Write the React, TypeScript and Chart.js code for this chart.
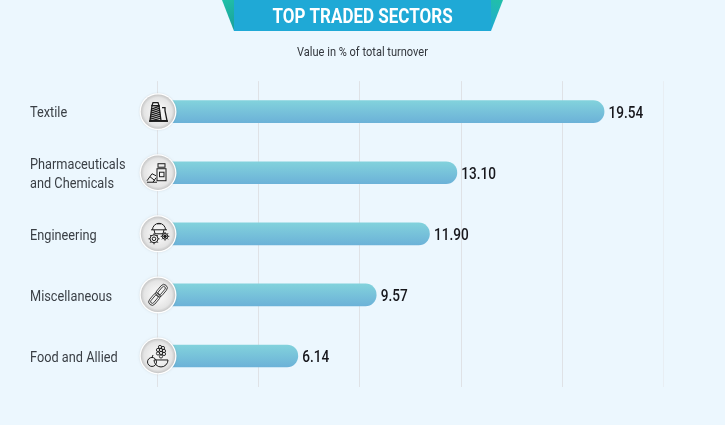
import React, { useEffect, useRef } from "react";
import { Chart, registerables } from "chart.js";

Chart.register(...registerables);

const categories: (string | string[])[] = [
  "Textile",
  ["Pharmaceuticals", "and Chemicals"],
  "Engineering",
  "Miscellaneous",
  "Food and Allied",
];
const values = [19.54, 13.1, 11.9, 9.57, 6.14];
const valueLabels = ["19.54", "13.10", "11.90", "9.57", "6.14"];
const gridTicks = [0, 4.43, 8.86, 13.29, 17.72, 22.15];
const axisMax = 23.52;
const titleText = "TOP TRADED SECTORS";
const subtitleText = "Value in % of total turnover";

const FONT = "Roboto, sans-serif";
const INK = "#17171c";
const CONDENSE = 0.85;

type Ctx = CanvasRenderingContext2D;

// The reference uses a condensed face: every text the chart draws is narrowed horizontally.
const condenseText = (c: any) => {
  if (c.__condensed) return;
  c.__condensed = true;
  const orig = c.fillText.bind(c);
  c.fillText = (t: string, x: number, y: number) => {
    c.save();
    c.translate(x, y);
    c.scale(CONDENSE, 1);
    orig(t, 0, 0);
    c.restore();
  };
};

const line = (c: Ctx, pts: number[][], close = false) => {
  c.beginPath();
  pts.forEach((p, i) => (i ? c.lineTo(p[0], p[1]) : c.moveTo(p[0], p[1])));
  if (close) c.closePath();
  c.stroke();
};
const circle = (c: Ctx, x: number, y: number, r: number, fill = false) => {
  c.beginPath();
  c.arc(x, y, r, 0, Math.PI * 2);
  fill ? c.fill() : c.stroke();
};
const gear = (c: Ctx, x: number, y: number, r: number) => {
  circle(c, x, y, r);
  circle(c, x, y, r * 0.45);
  for (let i = 0; i < 8; i++) {
    const a = (i * Math.PI) / 4;
    line(c, [
      [x + Math.cos(a) * r, y + Math.sin(a) * r],
      [x + Math.cos(a) * (r + 1.5), y + Math.sin(a) * (r + 1.5)],
    ]);
  }
};

const icons: ((c: Ctx) => void)[] = [
  (c) => {
    c.lineWidth = 1.3;
    line(c, [[-5, -9], [0, -9], [1, -6], [-6, -6]], true);
    line(c, [[-6, -6], [1, -6], [3, 9], [-8, 9]], true);
    for (let i = -4; i < 9; i += 2) line(c, [[-7 - i * 0.1, i + 1.5], [2 + i * 0.1, i - 1.5]]);
    line(c, [[4, -4], [7, -4], [7, -1], [9, 9], [3, 9]]);
    c.lineWidth = 1.6;
    line(c, [[-9, 9.5], [10, 9.5]]);
  },
  (c) => {
    c.lineWidth = 1;
    c.strokeRect(-1, -4, 9, 12);
    c.strokeRect(0, -9, 7, 3.5);
    c.strokeRect(1.5, -0.5, 4.5, 4.5);
    line(c, [[-11, 8], [-6, 1], [-2, 3]]);
    line(c, [[-11, 9.5], [-1, 9.5]]);
    line(c, [[-8, 4], [-3, 8]]);
    line(c, [[-5, 9.5], [-2, 5]]);
  },
  (c) => {
    c.lineWidth = 1;
    c.beginPath();
    c.arc(1, -4, 6.5, Math.PI, 0);
    c.stroke();
    line(c, [[-7, -4], [9, -4]]);
    line(c, [[-4, -4], [-3, 0], [5, 0], [6, -4]]);
    line(c, [[-1, -10], [3, -10]]);
    gear(c, -4, 5, 4);
    gear(c, 7, 2.5, 2.8);
    circle(c, 7, 2.5, 1.4, true);
  },
  (c) => {
    c.lineWidth = 0.9;
    c.strokeStyle = "#3a3a3a";
    c.save();
    c.rotate(-Math.PI / 3.6);
    for (const dx of [-5.5, 5.5]) {
      c.beginPath();
      c.roundRect(dx - 7, -3.5, 14, 7, 3.5);
      c.stroke();
      c.beginPath();
      c.roundRect(dx - 5, -1.7, 10, 3.4, 1.7);
      c.stroke();
    }
    c.restore();
  },
  (c) => {
    c.lineWidth = 1;
    circle(c, -6, 6, 4.5);
    c.beginPath();
    c.arc(3, 4, 7, 0, Math.PI);
    c.closePath();
    c.stroke();
    line(c, [[-6, 1.5], [-5, -1]]);
    c.lineWidth = 0.9;
    for (const [x, y] of [[2, -9], [5, -8], [0, -6], [3, -6], [6, -5], [0, -2.5], [3, -3], [6, -2], [3, 0.5]]) circle(c, x, y, 1.6);
  },
];

const overlayPlugin = {
  id: "overlay",
  beforeDraw(chart: any) {
    const c: Ctx = chart.ctx;
    c.save();
    const sideL = c.createLinearGradient(222, 0, 234, 31);
    sideL.addColorStop(0, "#21c0a8");
    sideL.addColorStop(1, "#189f9a");
    c.fillStyle = sideL;
    c.beginPath();
    c.moveTo(222, 0);
    c.lineTo(236, 0);
    c.lineTo(236, 31);
    c.lineTo(234, 31);
    c.closePath();
    c.fill();
    const sideR = c.createLinearGradient(503, 0, 491, 31);
    sideR.addColorStop(0, "#21c0a8");
    sideR.addColorStop(1, "#1fa9d6");
    c.fillStyle = sideR;
    c.beginPath();
    c.moveTo(503, 0);
    c.lineTo(489, 0);
    c.lineTo(489, 31);
    c.lineTo(491, 31);
    c.closePath();
    c.fill();
    c.fillStyle = "#1fa9d6";
    c.fillRect(234, 0, 257, 31);
    c.restore();
  },
  afterDatasetsDraw(chart: any) {
    const c: Ctx = chart.ctx;
    const yS = chart.scales.y;
    const xS = chart.scales.x;
    c.save();
    values.forEach((v, i) => {
      const y = yS.getPixelForValue(i);
      const x = xS.getPixelForValue(v);
      c.fillStyle = INK;
      c.font = `500 16px ${FONT}`;
      c.textAlign = "left";
      c.textBaseline = "middle";
      c.fillText(valueLabels[i], x + 4.5, y + 2.5);

      const cx = xS.getPixelForValue(0) + 0.5;
      c.save();
      c.shadowColor = "rgba(0,0,0,0.12)";
      c.shadowBlur = 2;
      c.fillStyle = "#ffffff";
      circle(c, cx, y, 18.5, true);
      c.restore();
      const g = c.createRadialGradient(cx, y, 6, cx, y, 17.5);
      g.addColorStop(0, "#f3f3f3");
      g.addColorStop(0.7, "#e4e4e4");
      g.addColorStop(1, "#c2c2c2");
      c.fillStyle = g;
      circle(c, cx, y, 17.2, true);
      c.save();
      c.translate(cx, y);
      c.strokeStyle = "#1c1c1c";
      c.fillStyle = "#1c1c1c";
      icons[i](c);
      c.restore();
    });
    c.restore();
  },
};

export default function App() {
  const ref = useRef<HTMLCanvasElement>(null);
  useEffect(() => {
    document.body.style.margin = "0";
    document.body.style.background = "#ecf7fe";
    condenseText(ref.current!.getContext("2d"));
    const chart = new Chart(ref.current!, {
      type: "bar",
      data: {
        labels: categories as any,
        datasets: [
          {
            data: values,
            barThickness: 22,
            borderRadius: 11,
            borderSkipped: false,
            backgroundColor: (ctx: any) => {
              const s = ctx.chart.scales?.y;
              const y = s && ctx.dataIndex !== undefined ? s.getPixelForValue(ctx.dataIndex) : NaN;
              if (!Number.isFinite(y)) return "#78c3da";
              const g = ctx.chart.ctx.createLinearGradient(0, y - 11, 0, y + 11);
              g.addColorStop(0, "#82d2dc");
              g.addColorStop(1, "#6cb2d8");
              return g;
            },
          },
        ],
      },
      options: {
        indexAxis: "y",
        responsive: false,
        animation: false,
        layout: { padding: { left: 30, right: 30, top: 4, bottom: 38.5 } },
        plugins: {
          legend: { display: false },
          tooltip: { enabled: false },
          title: {
            display: true,
            text: titleText,
            color: "#ffffff",
            font: { family: FONT, size: 20, weight: "bold" },
            padding: { top: 2, bottom: 0 },
          },
          subtitle: {
            display: true,
            text: subtitleText,
            color: "#33373d",
            font: { family: FONT, size: 13, weight: "normal" },
            padding: { top: 15, bottom: 20.5 },
          },
        },
        scales: {
          x: {
            min: 0,
            max: axisMax,
            afterBuildTicks: (s: any) => {
              s.ticks = gridTicks.map((value) => ({ value }));
            },
            ticks: { display: false },
            border: { display: false },
            grid: {
              drawTicks: false,
              lineWidth: 1,
              color: (ctx: any) => (ctx.index === gridTicks.length - 1 ? "#e8eef3" : "#dfe2e6"),
            },
          },
          y: {
            afterFit: (s: any) => {
              s.width = 127.5;
            },
            ticks: {
              crossAlign: "far",
              color: "#3a3f45",
              padding: 0,
              labelOffset: 2,
              font: { family: FONT, size: 15, lineHeight: 1.25 },
            },
            border: { display: false },
            grid: { display: false },
          },
        },
      } as any,
      plugins: [overlayPlugin],
    });
    return () => chart.destroy();
  }, []);
  return <canvas ref={ref} width={725} height={425} style={{ display: "block" }} />;
}
